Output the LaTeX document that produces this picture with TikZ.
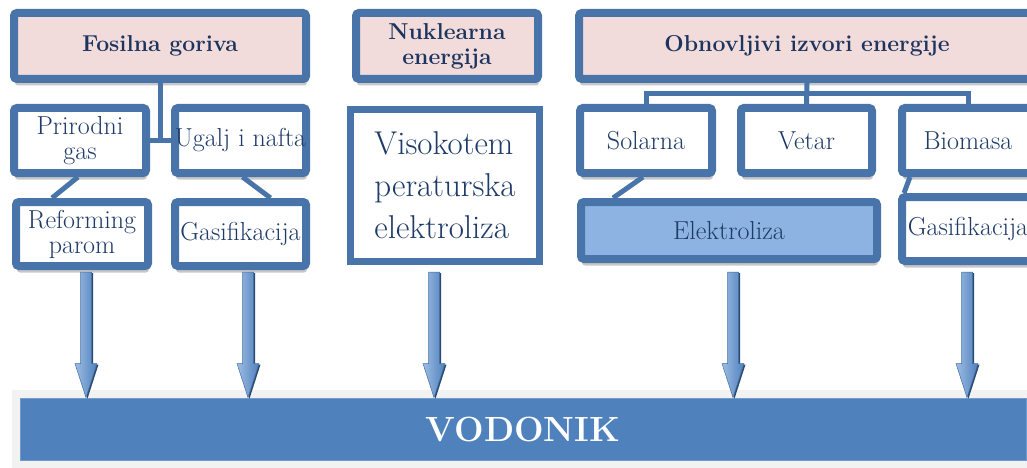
\documentclass[tikz,border=0pt]{standalone}
\usetikzlibrary{positioning,calc,shadows}

\definecolor{boxline}{RGB}{72,116,170}
\definecolor{headfill}{RGB}{242,220,219}
\definecolor{headtext}{RGB}{28,52,94}
\definecolor{bodytext}{RGB}{30,58,104}
\definecolor{elefill}{RGB}{141,179,226}
\definecolor{barblue}{RGB}{79,129,189}
\definecolor{bandgray}{RGB}{242,242,242}
\definecolor{arrowlight}{RGB}{157,188,227}
\definecolor{arrowdark}{RGB}{43,74,112}

% block arrow from a source box down to the hydrogen bar
\newcommand{\hyarrow}[2]{%
  \path let \p1=($(#1.south |- atop)+(#2,0)$), \p2=($(#1.south |- vod.north)+(#2,0)$) in
    [fill=arrowdark] (\x1-3.5pt,\y1-1pt) -- (\x1+7pt,\y1-1pt) -- (\x1+7pt,\y2+33pt)
      -- (\x1+12.5pt,\y2+33pt) -- (\x1+1.5pt,\y2-1pt) -- (\x1-9.5pt,\y2+33pt)
      -- (\x1-3.5pt,\y2+33pt) -- cycle;
  \path let \p1=($(#1.south |- atop)+(#2,0)$), \p2=($(#1.south |- vod.north)+(#2,0)$) in
    [left color=arrowlight, right color=barblue, draw=barblue!85!black, line width=0.5pt]
      (\x1-5.5pt,\y1) -- (\x1+5.5pt,\y1) -- (\x1+5.5pt,\y2+34pt) -- (\x1+11pt,\y2+34pt)
      -- (\x1,\y2) -- (\x1-11pt,\y2+34pt) -- (\x1-5.5pt,\y2+34pt) -- cycle;
}

\begin{document}
\begin{tikzpicture}[
  x=1pt, y=-1pt,
  boxshadow/.style={drop shadow={shadow xshift=1pt, shadow yshift=-6.5pt, opacity=0.22, fill=black}},
  head/.style={rectangle, draw=boxline, line width=8pt, rounded corners=3pt, fill=headfill, inner sep=0pt, align=center, text=headtext, font=\fontsize{23}{25}\selectfont\bfseries, minimum height=66pt, boxshadow},
  src/.style={rectangle, draw=boxline, line width=8pt, rounded corners=3pt, fill=white, inner ysep=0pt, inner xsep=-12pt, align=center, text=bodytext, font=\fontsize{26}{25}\selectfont, minimum height=65pt, minimum width=132pt, boxshadow},
  tall/.style={rectangle, draw=boxline, line width=7pt, fill=white, inner sep=0pt, align=left, text=bodytext, font=\fontsize{33}{42}\selectfont, minimum width=189pt, minimum height=152pt},
  link/.style={draw=boxline, line width=5pt},
  bar/.style={rectangle, fill=barblue, draw=barblue!80!white, line width=0.8pt, text=white, font=\fontsize{35}{40}\selectfont\bfseries, minimum width=1006pt, minimum height=62pt}
]
\useasboundingbox (0,0) rectangle (1027,468);
\clip (0,0) rectangle (1027,468);

%% Sources
\node[head, minimum width=292pt] (fos) at (160,46) {Fosilna goriva};
\node[head, minimum width=182pt] (nuk) at (447,46) {Nuklearna\\energija};
\node[head, minimum width=456pt] (obn) at (807,46) {Obnovljivi izvori energije};

%% Fossil branch
\node[src] (pg) at (80,140.5) {Prirodni\\gas};
\node[src, minimum width=131pt] (ug) at (240.5,140.5) {Ugalj i nafta};
\node[src, minimum height=64pt] (ref) at (82,234) {Reforming\\parom};
\node[src, minimum width=131pt, minimum height=64pt] (gas1) at (240.5,234) {Gasifikacija};

%% Nuclear branch
\node[tall] (vis) at (445,185.5) {Visokotem\\peraturska\\elektroliza};

%% Renewable branch
\node[src] (sol) at (646,140.5) {Solarna};
\node[src, minimum width=131pt] (vet) at (806.5,140.5) {Vetar};
\node[src] (bio) at (968,140.5) {Biomasa};
\node[src, fill=elefill, minimum width=296pt, minimum height=57pt] (ele) at (729,230.5) {Elektroliza};
\node[src, minimum height=64pt] (gas2) at (968,229) {Gasifikacija};

%% Links
\draw[link] (fos.south) -- (fos.south |- pg.east);
\draw[link] (pg.east) -- (ug.west);
\draw[link] ($(pg.south)+(-2,0)$) -- ($(ref.north)+(-30,0)$);
\draw[link] ($(ug.south)+(2,0)$) -- ($(gas1.north)+(30,0)$);
\coordinate (bus) at (0,94);
\draw[link] (obn.south) -- (vet.north);
\draw[link] (sol.north) -- (sol.north |- bus) -- (bio.north |- bus) -- (bio.north);
\draw[link] ($(sol.south)+(-3,0)$) -- ($(ele.north west)+(36,0)$);
\draw[link] ($(bio.south west)+(12,0)$) -- ($(gas2.north west)+(6,0)$);

%% Hydrogen
\fill[bandgray] (12,390) rectangle (1040,476);
\node[bar] (vod) at (523,429) {VODONIK};

%% Arrows
\coordinate (atop) at (0,272);
\hyarrow{ref}{4}
\hyarrow{gas1}{7.5}
\hyarrow{vis}{-11}
\hyarrow{ele}{4}
\hyarrow{gas2}{-1}
\end{tikzpicture}
\end{document}
